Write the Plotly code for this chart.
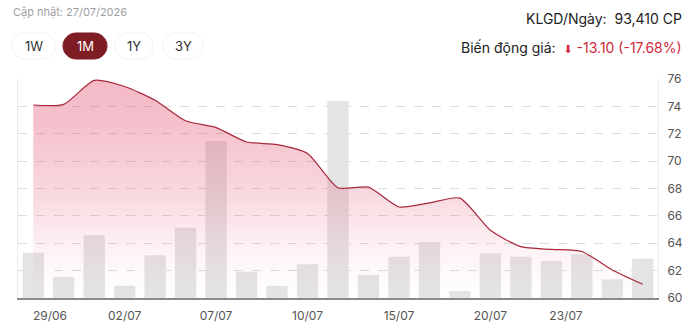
import plotly.graph_objects as go

# ---- data ----
dates = ["29/06", "30/06", "01/07", "02/07", "03/07", "06/07", "07/07", "08/07", "09/07", "10/07",
         "13/07", "14/07", "15/07", "16/07", "17/07", "20/07", "21/07", "22/07", "23/07", "24/07", "27/07"]
price = [74.1, 74.15, 75.9, 75.45, 74.45, 72.95, 72.45, 71.4, 71.2, 70.55,
         68.05, 68.1, 66.65, 66.95, 67.3, 64.95, 63.75, 63.55, 63.4, 62.05, 61.0]
volume = [86100, 39900, 119100, 23400, 81100, 133600, 298300, 50000, 22800, 64000,
          374300, 43700, 78500, 106400, 13300, 84900, 78500, 70300, 83000, 35500, 74910]
tick_labels = ["29/06", "02/07", "07/07", "10/07", "15/07", "20/07", "23/07"]
price_ticks = [60, 62, 64, 66, 68, 70, 72, 74, 76]
periods = ["1W", "1M", "1Y", "3Y"]
selected_period = "1M"

W, H = 700, 334
ML, MR, MT, MB = 18, 42, 79, 36
PW, PH = W - ML - MR, H - MT - MB

def px(x):
    return (x - ML) / PW

def py(y):
    return (H - MB - y) / PH

x_idx = list(range(len(dates)))
label_shift = {"29/06": 0.55, "23/07": -0.52}
tickvals = [dates.index(t) + label_shift.get(t, 0) for t in tick_labels]

fig = go.Figure()
fig.add_trace(go.Bar(
    x=x_idx, y=volume, yaxis="y", width=0.7,
    marker=dict(color="#e4e4e4", line=dict(width=0)),
    hoverinfo="skip", showlegend=False))
fig.add_trace(go.Scatter(
    x=x_idx, y=price, yaxis="y2", mode="lines",
    line=dict(color="#a8283a", width=1.2, shape="spline", smoothing=0.6),
    fill="tozeroy",
    fillgradient=dict(type="vertical", start=60, stop=76,
                      colorscale=[[0, "rgba(225,70,105,0)"],
                                  [0.2, "rgba(225,70,105,0.06)"],
                                  [0.5, "rgba(225,70,105,0.22)"],
                                  [0.8, "rgba(225,70,105,0.34)"],
                                  [1, "rgba(225,70,105,0.38)"]]),
    hoverinfo="skip", showlegend=False))

FONT = "Inter, Roboto, sans-serif"

fig.update_layout(
    width=W, height=H,
    margin=dict(l=ML, r=MR, t=MT, b=MB),
    paper_bgcolor="white", plot_bgcolor="white",
    bargap=0.3,
    font=dict(family=FONT, color="#555"),
    xaxis=dict(range=[-0.5, len(dates) - 0.5], tickvals=tickvals, ticktext=tick_labels,
               showgrid=False, zeroline=False, showline=True, linecolor="#8a8a8a", linewidth=1.5,
               ticks="", tickfont=dict(size=12, color="#555"), ticklabelstandoff=6, fixedrange=True),
    yaxis=dict(range=[0, 416150], visible=False, showgrid=False, fixedrange=True),
    yaxis2=dict(range=[60, 76], overlaying="y", side="right", tickvals=price_ticks,
                showgrid=True, gridcolor="#dcdcdc", griddash="dash", gridwidth=1,
                zeroline=False, showline=True, linecolor="#ececec", mirror=True,
                ticks="", tickfont=dict(size=12, color="#555"), ticklabelstandoff=6,
                fixedrange=True),
)

shapes = []
annotations = []

def pill_path(x0, y0, x1, y1):
    r = (y1 - y0) / 2
    k = 0.5523 * r
    def P(x, y):
        return f"{px(x):.5f},{py(y):.5f}"
    d = f"M {P(x0 + r, y0)} L {P(x1 - r, y0)} "
    d += f"C {P(x1 - r + k, y0)} {P(x1, y0 + r - k)} {P(x1, y0 + r)} "
    d += f"C {P(x1, y0 + r + k)} {P(x1 - r + k, y1)} {P(x1 - r, y1)} "
    d += f"L {P(x0 + r, y1)} "
    d += f"C {P(x0 + r - k, y1)} {P(x0, y0 + r + k)} {P(x0, y0 + r)} "
    d += f"C {P(x0, y0 + r - k)} {P(x0 + r - k, y0)} {P(x0 + r, y0)} Z"
    return d

pill_x = [(12, 55), (63, 107), (115, 153), (163, 203)]
for (x0, x1), lab in zip(pill_x, periods):
    sel = lab == selected_period
    shapes.append(dict(type="path", xref="paper", yref="paper", path=pill_path(x0, 33, x1, 59),
                       fillcolor="#7f1d25" if sel else "white",
                       line=dict(color="#7f1d25" if sel else "#f2f2f2", width=1), layer="above"))
    annotations.append(dict(xref="paper", yref="paper", x=px((x0 + x1) / 2), y=py(46),
                            text=lab, showarrow=False, xanchor="center", yanchor="middle",
                            font=dict(family=FONT, size=13, color="white" if sel else "#333")))

annotations.append(dict(xref="paper", yref="paper", x=px(11), y=py(12), text="Cập nhật: 27/07/2026",
                        showarrow=False, xanchor="left", yanchor="middle",
                        font=dict(family=FONT, size=11, color="#a0a0a0")))
annotations.append(dict(xref="paper", yref="paper", x=px(684), y=py(18),
                        text="KLGD/Ngày:  93,410 CP",
                        showarrow=False, xanchor="right", yanchor="middle",
                        font=dict(family=FONT, size=14, color="#222")))
annotations.append(dict(xref="paper", yref="paper", x=px(684), y=py(48),
                        text="Biến động giá:  <span style='color:#d0283a'>"
                             "<span style='font-family:DejaVu Sans;font-size:11px'>⬇</span>"
                             " -13.10 (-17.68%)</span>",
                        showarrow=False, xanchor="right", yanchor="middle",
                        font=dict(family=FONT, size=14, color="#222")))

fig.update_layout(shapes=shapes, annotations=annotations)
fig.write_html("out.html")
